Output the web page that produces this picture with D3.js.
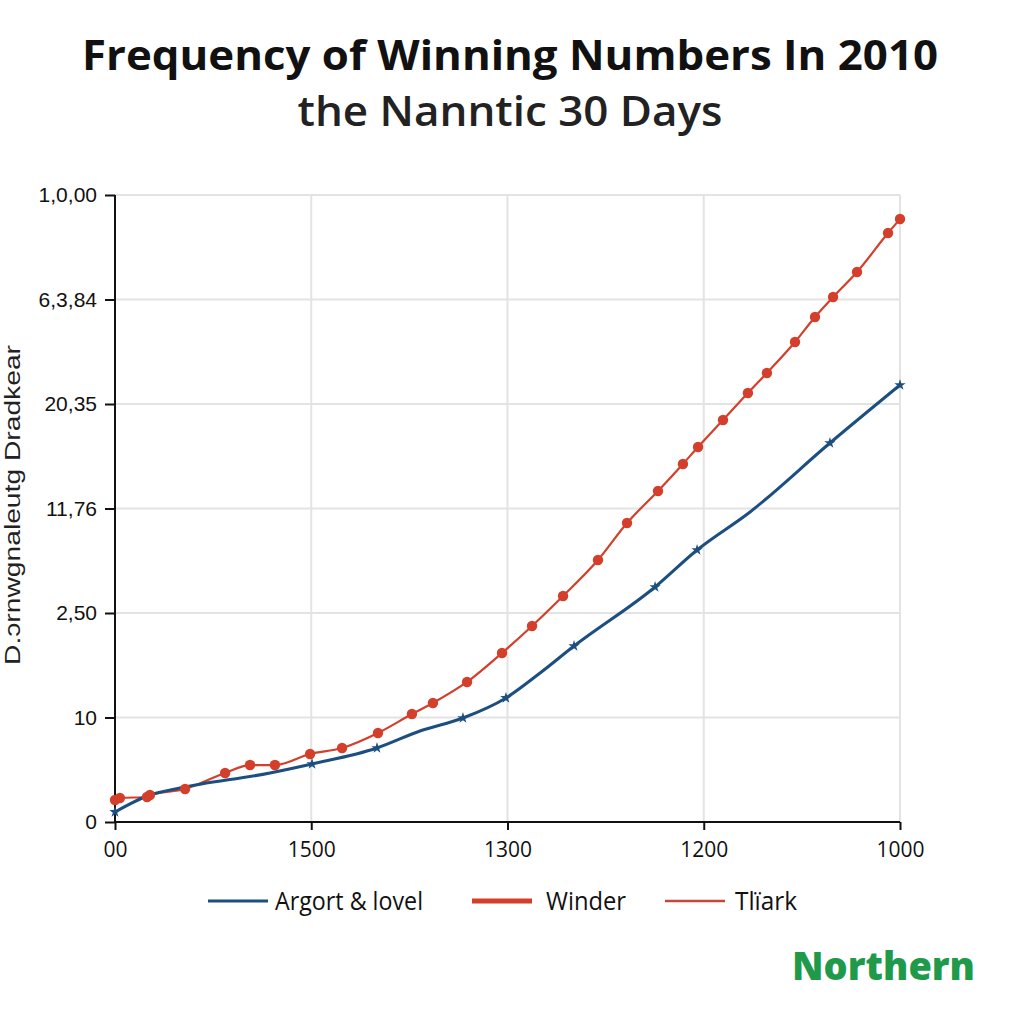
<!DOCTYPE html>
<html><head><meta charset="utf-8">
<script src="https://cdn.jsdelivr.net/npm/d3@7"></script>
<style>body{margin:0;background:#fff}svg{display:block}</style>
</head><body>
<svg id="c" width="1024" height="1024"></svg>
<script>
// tick labels (equally spaced positions, index units)
const yTickLabels = ["0","10","2,50","11,76","20,35","6,3,84","1,0,00"];
const xTickLabels = ["00","1500","1300","1200","1000"];
// series values in axis index units [x, y]
const blueX = [0,0.178,0.331,0.790,1.004,1.335,1.554,1.773,1.992,2.166,2.339,2.752,2.966,3.236,3.643,4.0];
const blueY = [0.096,0.258,0.325,0.469,0.555,0.708,0.871,0.995,1.187,1.426,1.684,2.249,2.603,2.967,3.627,4.182];
const blueMarked = [1,0,0,0,1,1,0,1,1,0,1,1,1,0,1,1];
const redX = [0,0.025,0.163,0.178,0.357,0.561,0.688,0.815,0.994,1.157,1.340,1.513,1.620,1.794,1.972,2.125,2.283,2.461,2.609,2.767,2.894,2.971,3.098,3.225,3.322,3.465,3.567,3.659,3.781,3.939,4.0];
const redY = [0.211,0.230,0.239,0.258,0.316,0.469,0.545,0.545,0.651,0.708,0.852,1.033,1.139,1.340,1.617,1.876,2.163,2.507,2.861,3.167,3.426,3.589,3.847,4.105,4.297,4.593,4.833,5.024,5.263,5.636,5.770];
const legendItems = ["Argort & lovel","Winder","Tlïark"];
const titleLines = ["Frequency of Winning Numbers  In 2010","the Nanntic 30 Days"];
const yLabel = "D.ɔrnwgnaleutg Dradkear";
const logoText = "Northern";

const svg = d3.select("#c");
const L=115,R=900,T=195,B=822;
const x = d3.scaleLinear().domain([0,4]).range([L,R]);
const y = d3.scaleLinear().domain([0,6]).range([B,T]);
const blue="#1c4f80", red="#d33f2b";
const font="'Open Sans', 'Noto Sans', sans-serif";

// title
svg.append("text").attr("x",510).attr("y",70).attr("text-anchor","middle")
  .attr("font-family",font).attr("font-weight",700).attr("font-size",42).attr("fill","#111")
  .attr("textLength",856).attr("lengthAdjust","spacingAndGlyphs").text(titleLines[0]);
svg.append("text").attr("x",510).attr("y",126).attr("text-anchor","middle")
  .attr("font-family",font).attr("font-weight",600).attr("font-size",41).attr("fill","#222")
  .attr("textLength",425).attr("lengthAdjust","spacingAndGlyphs").text(titleLines[1]);

// grid
const g = svg.append("g");
g.selectAll("line.h").data(d3.range(1,7)).join("line")
  .attr("x1",L).attr("x2",R).attr("y1",d=>y(d)).attr("y2",d=>y(d))
  .attr("stroke","#e3e3e3").attr("stroke-width",2);
g.selectAll("line.v").data(d3.range(1,5)).join("line")
  .attr("y1",T).attr("y2",B).attr("x1",d=>x(d)).attr("x2",d=>x(d))
  .attr("stroke","#e3e3e3").attr("stroke-width",2);

// axes
const yAxis = d3.axisLeft(y).tickValues(d3.range(0,7)).tickFormat(i=>yTickLabels[i]).tickSize(10).tickPadding(8);
const ya = svg.append("g").attr("transform",`translate(${L},0)`).call(yAxis);
const xAxis = d3.axisBottom(x).tickValues(d3.range(0,5)).tickFormat(i=>xTickLabels[i]).tickSize(8).tickPadding(8);
const xa = svg.append("g").attr("transform",`translate(0,${B})`).call(xAxis);
[ya,xa].forEach(a=>{
  a.select(".domain").attr("stroke","#111").attr("stroke-width",2);
  a.selectAll(".tick line").attr("stroke","#111").attr("stroke-width",2);
  a.selectAll("text").attr("font-family","'Liberation Sans', Arial, sans-serif").attr("font-size",21).attr("fill","#111");
});
xa.selectAll("text").attr("font-family",font).attr("font-size",21).attr("dy","0.9em");
ya.select(".domain").attr("d",`M-0,${T}H0V${B}H0`);
xa.select(".domain").attr("d",`M${L},0V0H${R}V0`);

// y label
svg.append("text").attr("transform","translate(20,505) rotate(-90)").attr("text-anchor","middle")
  .attr("font-family","'Liberation Sans', Arial, sans-serif").attr("font-size",22).attr("fill","#222")
  .attr("textLength",320).attr("lengthAdjust","spacingAndGlyphs").text(yLabel);

// lines
const blueData = blueX.map((v,i)=>({x:v,y:blueY[i],m:blueMarked[i]}));
const redData = redX.map((v,i)=>({x:v,y:redY[i]}));
const line = d3.line().x(d=>x(d.x)).y(d=>y(d.y)).curve(d3.curveMonotoneX);
svg.append("path").datum(redData).attr("d",line).attr("fill","none").attr("stroke",red).attr("stroke-width",2.2);
svg.append("path").datum(blueData).attr("d",line).attr("fill","none").attr("stroke",blue).attr("stroke-width",3);
svg.selectAll("circle.r").data(redData).join("circle")
  .attr("cx",d=>x(d.x)).attr("cy",d=>y(d.y)).attr("r",5.2).attr("fill",red);
svg.selectAll("path.bm").data(blueData.filter(d=>d.m)).join("path")
  .attr("transform",d=>`translate(${x(d.x)},${y(d.y)})`)
  .attr("d",d3.symbol(d3.symbolStar,40)).attr("fill",blue);

// legend
const lg = svg.append("g");
const legX=[208,472,665], legTX=[275,546,735], legW=[3,5,2.5];
const legTW=[148,80,62];
const legC=[blue,red,"#c8453a"];
legendItems.forEach((t,i)=>{
  lg.append("line").attr("x1",legX[i]).attr("x2",legX[i]+60).attr("y1",901).attr("y2",901)
    .attr("stroke",legC[i]).attr("stroke-width",legW[i]);
  lg.append("text").attr("x",legTX[i]).attr("y",910).attr("font-family",font).attr("font-size",25)
    .attr("fill","#111").attr("textLength",legTW[i]).attr("lengthAdjust","spacingAndGlyphs").text(t);
});

// logo
svg.append("text").attr("x",792).attr("y",980).attr("font-family",font).attr("font-weight",800)
  .attr("font-size",38).attr("fill","#1e9a4a").attr("textLength",183).attr("lengthAdjust","spacingAndGlyphs").text(logoText);
</script>
</body></html>
